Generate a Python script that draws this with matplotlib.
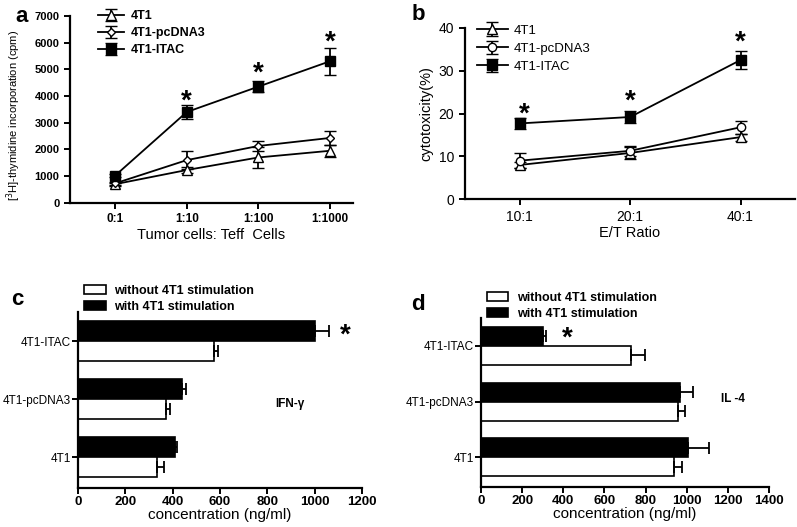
import matplotlib.pyplot as plt
import numpy as np

plt.rcParams['font.family'] = ['Liberation Sans', 'DejaVu Sans']

# panel a: proliferation
ratios_a = ['0:1', '1:10', '1:100', '1:1000']
a_4t1 = [700, 1230, 1700, 1950]
a_4t1_err = [60, 120, 400, 220]
a_pc = [730, 1600, 2130, 2430]
a_pc_err = [60, 350, 200, 250]
a_itac = [1020, 3400, 4350, 5300]
a_itac_err = [60, 250, 200, 500]
a_star = [None, 3800, 4820, 5980]

# panel b: cytotoxicity
ratios_b = ['10:1', '20:1', '40:1']
b_4t1 = [8.0, 10.8, 14.5]
b_4t1_err = [0.8, 1.5, 0.8]
b_pc = [9.0, 11.3, 16.8]
b_pc_err = [1.8, 1.2, 1.5]
b_itac = [17.7, 19.2, 32.5]
b_itac_err = [1.2, 1.5, 2.0]
b_star = [19.7, 22.8, 36.5]

# panels c/d: cytokines (bottom to top)
groups = ['4T1', '4T1-pcDNA3', '4T1-ITAC']
ifn_without = [335, 370, 575]
ifn_without_err = [30, 20, 15]
ifn_with = [410, 440, 1000]
ifn_with_err = [10, 15, 60]
il4_without = [940, 955, 730]
il4_without_err = [35, 35, 65]
il4_with = [1005, 965, 300]
il4_with_err = [105, 65, 15]

fig = plt.figure(figsize=(7.97, 5.27), dpi=100)


def style(ax):
    for s in ['top', 'right']:
        ax.spines[s].set_visible(False)
    for s in ['left', 'bottom']:
        ax.spines[s].set_linewidth(1.6)
    ax.tick_params(direction='out', length=4, width=1.4)


# ---- a ----
ax = fig.add_axes([0.0878, 0.615, 0.355, 0.355])
x = np.arange(len(ratios_a))
ax.errorbar(x, a_4t1, yerr=a_4t1_err, color='black', marker='^', mfc='white',
            ms=7, lw=1.3, capsize=4, elinewidth=1.3, label='4T1')
ax.errorbar(x, a_pc, yerr=a_pc_err, color='black', marker='D', mfc='white',
            ms=4.5, lw=1.3, capsize=4, elinewidth=1.3, label='4T1-pcDNA3')
ax.errorbar(x, a_itac, yerr=a_itac_err, color='black', marker='s', mfc='black',
            ms=6.5, lw=1.3, capsize=4, elinewidth=1.3, label='4T1-ITAC')
for xi, s in zip(x, a_star):
    if s is not None:
        ax.text(xi, s, '*', ha='center', va='center', fontsize=20, fontweight='bold')
ax.set_xlim(-0.63, 3.32)
ax.set_ylim(0, 7000)
ax.set_yticks(range(0, 7001, 1000))
ax.set_xticks(x)
ax.set_xticklabels(ratios_a)
for lab in ax.get_yticklabels():
    lab.set_fontweight('bold')
    lab.set_fontsize(8)
for lab in ax.get_xticklabels():
    lab.set_fontweight('bold')
    lab.set_fontsize(8.5)
ax.set_xlabel('Tumor cells: Teff  Cells', fontsize=10.5, labelpad=2)
ax.set_ylabel('[$^3$H]-thymidine incorporation (cpm)', fontsize=8)
ax.yaxis.set_label_coords(-0.165, 0.47)
style(ax)
leg = ax.legend(loc='upper left', bbox_to_anchor=(0.06, 1.09), frameon=False,
                prop={'weight': 'bold', 'size': 9}, handlelength=2.1,
                labelspacing=0.4, handletextpad=0.5)
fig.text(0.019, 0.958, 'a', fontsize=16, fontweight='bold', va='baseline')

# ---- b ----
ax = fig.add_axes([0.583, 0.622, 0.414, 0.325])
x = np.arange(len(ratios_b))
ax.errorbar(x, b_4t1, yerr=b_4t1_err, color='black', marker='^', mfc='white',
            ms=7, lw=1.3, capsize=4, elinewidth=1.3, label='4T1')
ax.errorbar(x, b_pc, yerr=b_pc_err, color='black', marker='o', mfc='white',
            ms=6, lw=1.3, capsize=4, elinewidth=1.3, label='4T1-pcDNA3')
ax.errorbar(x, b_itac, yerr=b_itac_err, color='black', marker='s', mfc='black',
            ms=6.5, lw=1.3, capsize=4, elinewidth=1.3, label='4T1-ITAC')
for i, (xi, s) in enumerate(zip(x, b_star)):
    dx = 0.04 if i == 0 else 0.0
    ax.text(xi + dx, s, '*', ha='center', va='center', fontsize=20, fontweight='bold')
ax.set_xlim(-0.5, 2.49)
ax.set_ylim(0, 40)
ax.set_yticks([0, 10, 20, 30, 40])
ax.set_xticks(x)
ax.set_xticklabels(ratios_b)
ax.tick_params(labelsize=10)
ax.set_xlabel('E/T Ratio', fontsize=10.5, labelpad=2)
ax.set_ylabel('cytotoxicity(%)', fontsize=10.5)
style(ax)
ax.legend(loc='upper left', bbox_to_anchor=(0.0, 1.09), frameon=False,
          prop={'size': 9.5}, handlelength=2.4, labelspacing=0.45, handletextpad=0.4)
fig.text(0.516, 0.962, 'b', fontsize=16, fontweight='bold', va='baseline')


# ---- c / d ----
def cyto(ax, w_o, w_o_err, w, w_err, xmax, star, label, label_pos, leg_y):
    y = np.arange(len(groups))
    h = 0.34
    ax.barh(y + h / 2, w, height=h, color='black', edgecolor='black', lw=1.2,
            xerr=[[0] * len(w), w_err], error_kw=dict(ecolor='black', capsize=4, elinewidth=1.3, capthick=1.3),
            label='with 4T1 stimulation')
    ax.barh(y - h / 2, w_o, height=h, color='white', edgecolor='black', lw=1.2,
            xerr=[[0] * len(w_o), w_o_err], error_kw=dict(ecolor='black', capsize=4, elinewidth=1.3, capthick=1.3),
            label='without 4T1 stimulation')
    ax.set_ylim(-0.53, 2.5)
    ax.set_xlim(0, xmax)
    ax.set_xticks(range(0, xmax + 1, 200))
    ax.set_yticks(y)
    ax.set_yticklabels(groups, fontsize=8.5)
    for lab in ax.get_xticklabels():
        lab.set_fontweight('bold')
        lab.set_fontsize(9.5)
    ax.set_xlabel('concentration (ng/ml)', fontsize=11, labelpad=0)
    ax.text(star[0], star[1], '*', ha='center', va='center', fontsize=20, fontweight='bold')
    ax.text(label_pos[0], label_pos[1], label, ha='center', va='center',
            fontsize=8.5, fontweight='bold')
    style(ax)
    ax.tick_params(axis='x', pad=2)
    ax.tick_params(axis='y', pad=1)
    hs, ls = ax.get_legend_handles_labels()
    ax.legend(hs[::-1], ls[::-1], loc='lower left', bbox_to_anchor=(0.0, leg_y),
              frameon=False, prop={'weight': 'bold', 'size': 9},
              handlelength=1.7, handleheight=0.7, labelspacing=0.3,
              handletextpad=0.65, borderaxespad=0.1)


ax = fig.add_axes([0.098, 0.074, 0.356, 0.334])
cyto(ax, ifn_without, ifn_without_err, ifn_with, ifn_with_err, 1200,
     (1130, 2.1), 'IFN-γ', (895, 0.92), 0.96)
fig.text(0.014, 0.421, 'c', fontsize=16, fontweight='bold', va='baseline')

ax = fig.add_axes([0.6035, 0.076, 0.3615, 0.321])
cyto(ax, il4_without, il4_without_err, il4_with, il4_with_err, 1400,
     (417, 2.13), 'IL -4', (1225, 1.05), 0.95)
fig.text(0.516, 0.412, 'd', fontsize=16, fontweight='bold', va='baseline')

fig.savefig('out.png', dpi=100)
